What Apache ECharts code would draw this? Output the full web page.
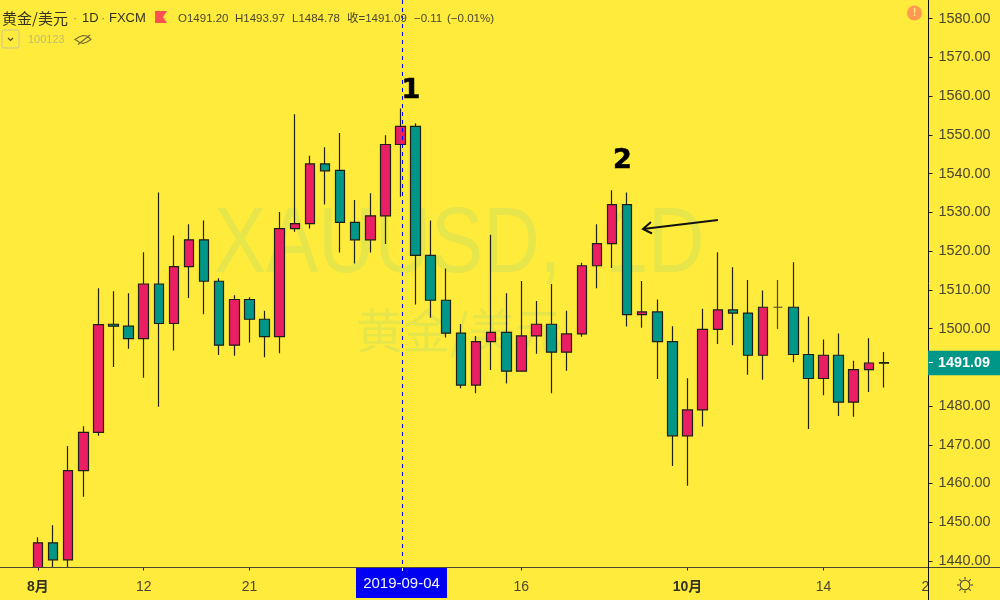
<!DOCTYPE html>
<html><head><meta charset="utf-8">
<style>html,body{margin:0;padding:0;background:#FFEB3B}#c{width:1000px;height:600px}</style>
<script src="https://cdn.jsdelivr.net/npm/echarts@6/dist/echarts.min.js"></script>
</head><body><div id="c"></div>
<script>
const dates = ['07-30','07-31','08-01','08-02','08-05','08-06','08-07','08-08','08-09','08-12','08-13','08-14','08-15','08-16','08-19','08-20','08-21','08-22','08-23','08-26','08-27','08-28','08-29','08-30','09-02','09-03','09-04','09-05','09-06','09-09','09-10','09-11','09-12','09-13','09-16','09-17','09-18','09-19','09-20','09-23','09-24','09-25','09-26','09-27','09-30','10-01','10-02','10-03','10-04','10-07','10-08','10-09','10-10','10-11','10-14','10-15','10-16','10-17','10-18','10-21','10-22','10-23'];
const tickLabels = {'08-01':'{m|8月}','08-12':'12','08-21':'21','09-16':'16','10-01':'{m|10月}','10-14':'14','10-23':'23'};
// [open, close, low, high]
const ohlc = [
null,null,
[1436.0,1444.7,1430.0,1446.1],[1444.7,1440.3,1436.0,1449.2],[1440.3,1463.3,1437.0,1469.7],[1463.3,1473.2,1456.6,1474.8],
[1473.2,1501.0,1472.3,1510.4],[1501.1,1500.6,1490.1,1509.6],[1500.6,1497.4,1494.8,1509.1],[1497.4,1511.5,1487.3,1519.7],
[1511.5,1501.3,1479.8,1535.1],[1501.3,1516.0,1494.3,1524.0],[1516.0,1522.9,1507.9,1526.9],[1522.9,1512.2,1503.7,1527.9],
[1512.2,1495.7,1493.2,1513.0],[1495.7,1507.5,1493.0,1508.6],[1507.5,1502.4,1496.4,1508.1],[1502.4,1497.9,1492.6,1504.6],
[1497.9,1525.8,1493.6,1530.1],[1525.8,1527.1,1525.0,1555.3],[1527.1,1542.5,1525.8,1544.6],[1542.5,1540.7,1532.0,1546.8],
[1540.8,1527.4,1519.6,1550.5],[1527.4,1522.9,1516.8,1533.2],[1522.9,1529.1,1519.6,1534.9],[1529.1,1547.5,1521.8,1549.9],
[1547.5,1552.2,1534.0,1556.8],[1552.2,1518.9,1506.2,1553.0],[1518.9,1507.3,1502.8,1527.9],[1507.3,1498.8,1497.7,1515.5],
[1498.8,1485.4,1484.6,1501.2],[1485.4,1496.6,1483.3,1498.1],[1496.6,1499.0,1489.3,1524.2],[1499.0,1489.0,1485.8,1509.1],
[1489.0,1498.1,1489.0,1512.3],[1498.1,1501.1,1493.5,1507.1],[1501.1,1493.9,1483.3,1511.5],[1493.9,1498.6,1489.1,1504.6],
[1498.6,1516.2,1497.9,1517.0],[1516.2,1521.9,1510.4,1526.9],[1521.9,1532.0,1515.6,1535.7],[1532.0,1503.6,1500.5,1535.1],
[1503.6,1504.3,1500.2,1512.3],[1504.3,1496.6,1487.0,1507.5],[1496.6,1472.3,1464.5,1500.6],[1472.3,1479.0,1459.4,1487.2],
[1479.0,1499.8,1474.7,1505.1],[1499.8,1504.8,1496.0,1519.7],[1504.8,1504.0,1495.7,1515.8],[1504.0,1493.1,1488.1,1512.5],
[1493.1,1505.5,1486.8,1509.8],[1505.5,1505.5,1499.9,1512.5],[1505.5,1493.3,1491.3,1517.1],[1493.3,1487.1,1474.1,1503.1],
[1487.1,1493.1,1482.8,1497.2],[1493.1,1481.0,1477.4,1498.7],[1481.0,1489.4,1477.2,1491.7],[1489.4,1491.1,1483.6,1497.5],
[1491.20,1491.09,1484.78,1493.97],
null,null,null
];
const priceTicks = [1440,1450,1460,1470,1480,1490,1500,1510,1520,1530,1540,1550,1560,1570,1580];
const lastPrice = 1491.09;
const textFont = '"Liberation Sans","Noto Sans CJK SC",sans-serif';
const tickColor = '#4a4632';
const bg = '#FFEB3B';

const chart = echarts.init(document.getElementById('c'), null, {renderer:'canvas'});
const isTick = (i, v) => v in tickLabels;
const gLine = (x1,y1,x2,y2,stroke,w,z) => ({type:'line', z:z||60, shape:{x1,y1,x2,y2}, style:{stroke,lineWidth:w}});
const gText = (x,y,text,font,fill) => ({type:'text', z:60, style:{x,y,text,font,fill}});
const hdr = '11.5px "Liberation Sans","Noto Sans CJK SC",sans-serif';
chart.setOption({
  animation:false,
  backgroundColor:bg,
  grid:{left:0.2, top:0, width:936.6, height:567.5, containLabel:false},
  xAxis:{
    type:'category', data:dates, boundaryGap:true, z:3,
    axisLine:{show:false},
    axisTick:{show:true, alignWithLabel:true, interval:isTick, length:3, lineStyle:{color:'#222',width:1}},
    axisLabel:{show:true, interval:isTick, margin:13, fontSize:14, fontFamily:textFont, color:tickColor,
      formatter:v=>tickLabels[v]||'',
      rich:{m:{fontSize:14,fontWeight:'bold',fontFamily:textFont,color:'#33321f'}}},
    splitLine:{show:false}
  },
  yAxis:{
    type:'value', position:'right', min:1438.32, max:1584.8, offset:-8.3, scale:true, z:3,
    splitLine:{show:false},
    axisLine:{show:true, onZero:false, lineStyle:{color:'#111',width:1}},
    axisTick:{show:true, length:4, customValues:priceTicks, lineStyle:{color:'#222'}},
    axisLabel:{show:true, margin:10, customValues:priceTicks, fontSize:14.4, fontFamily:textFont, color:tickColor,
      padding:[1,0,0,0], formatter:v=>v.toFixed(2)},
    axisPointer:{show:true, status:'show', value:lastPrice, type:'line', triggerTooltip:false, triggerEmphasis:false,
      lineStyle:{opacity:0},
      label:{show:true, formatter:p=>(+p.value).toFixed(2), backgroundColor:'#009688', color:'#fff', fontSize:14.4, fontWeight:'bold', fontFamily:textFont,
        padding:[5,10,5,10], margin:0, borderRadius:0}}
  },
  series:[{
    type:'candlestick', z:2, data:ohlc.map(d=>d||'-'), barWidth:10, clip:true,
    itemStyle:{color:'#E91E63', color0:'#009688', borderColor:'#1f1f14', borderColor0:'#1f1f14', borderColorDoji:'#4a4632', borderWidth:1.2}
  }],
  graphic:[
    {type:'text', z:-1, x:214, y:200, scaleX:0.84, style:{x:0,y:0,text:'XAUUSD,  1D',font:'93px "Liberation Sans",sans-serif',fill:'#E6E54A'}},
    {type:'text', z:-1, style:{x:356,y:307,text:'黄金/美元',font:'47px "Noto Sans CJK SC",sans-serif',fill:'#E6E54A'}},
    {type:'rect', z:2.5, shape:{x:0,y:568,width:930,height:32}, style:{fill:bg}},
    gLine(0,567.5,1000,567.5,'#4a4632',1,50),
    {type:'rect', z:40, shape:{x:929,y:568,width:71,height:32}, style:{fill:bg}},
    gLine(928.5,567,928.5,600,'#111',1,50),
    {type:'line', z:30, shape:{x1:402.5,y1:0,x2:402.5,y2:567}, style:{stroke:'#0000ff',lineWidth:1,lineDash:[4,4]}},
    {type:'rect', z:45, shape:{x:356,y:568,width:91,height:30}, style:{fill:'#0000f5'}},
    {type:'text', z:46, style:{x:401.5,y:583.5,text:'2019-09-04',align:'center',verticalAlign:'middle',font:'15px '+textFont,fill:'#f4f4ff'}},
    gLine(402.5,568,402.5,571,'#fff',1,46),
    gLine(929,362.5,933,362.5,'#e8f5f0',1,70),
    gText(2,11,'黄金/美元','15px "Noto Sans CJK SC",sans-serif','#33321f'),
    gText(73,12,'·','13px '+textFont,'#8a8650'),
    gText(82,12,'1D','13px '+textFont,'#33321f'),
    gText(101,12,'·','13px '+textFont,'#8a8650'),
    gText(109,12,'FXCM','13px '+textFont,'#33321f'),
    {type:'polygon', z:60, shape:{points:[[155,11],[167,11],[163,17],[167,23],[155,23]]}, style:{fill:'#FF5252'}},
    gText(178,13,'O1491.20',hdr,'#4a4632'),
    gText(235,13,'H1493.97',hdr,'#4a4632'),
    gText(292,13,'L1484.78',hdr,'#4a4632'),
    gText(347,13,'收=1491.09',hdr,'#4a4632'),
    gText(414,13,'−0.11',hdr,'#4a4632'),
    gText(447,13,'(−0.01%)',hdr,'#4a4632'),
    {type:'rect', z:60, shape:{x:2,y:30,width:17,height:18,r:2}, style:{fill:'none',stroke:'#c9c68a',lineWidth:1}},
    {type:'polyline', z:60, shape:{points:[[8,38],[10.5,40.5],[13,38]]}, style:{stroke:'#4a4632',lineWidth:1.2,fill:'none'}},
    gText(28,34,'100123','11px '+textFont,'#bfbc7a'),
    {type:'polygon', z:60, shape:{points:[[75,39.5],[79,37],[83,35.5],[87,36],[91,39.5],[87,42],[83,43.5],[79,42]]}, style:{fill:'none',stroke:'#6e6a3a',lineWidth:1.1}},
    gLine(78,44.5,90,35,'#6e6a3a',1.1),
    {type:'circle', z:60, shape:{cx:914.5,cy:13,r:7.5}, style:{fill:'#FF9850'}},
    {type:'text', z:61, style:{x:914.5,y:13,text:'!',align:'center',verticalAlign:'middle',font:'bold 11px '+textFont,fill:'#FFEB80'}},
    {type:'circle', z:60, shape:{cx:965,cy:585,r:4.8}, style:{fill:'none',stroke:'#4a4632',lineWidth:1.1}},
    gLine(965,577,965,579.5,'#4a4632',1.1), gLine(965,590.5,965,593,'#4a4632',1.1),
    gLine(957,585,959.5,585,'#4a4632',1.1), gLine(970.5,585,973,585,'#4a4632',1.1),
    gLine(959.3,579.3,961.1,581.1,'#4a4632',1.1), gLine(968.9,588.9,970.7,590.7,'#4a4632',1.1),
    gLine(959.3,590.7,961.1,588.9,'#4a4632',1.1), gLine(968.9,581.1,970.7,579.3,'#4a4632',1.1),
    {type:'text', z:60, style:{x:411,y:90.5,text:'1',align:'center',verticalAlign:'middle',font:'bold 27px "DejaVu Sans",sans-serif',fill:'#000',stroke:'#000',lineWidth:0.6}},
    {type:'text', z:60, style:{x:622.5,y:161,text:'2',align:'center',verticalAlign:'middle',font:'bold 27px "DejaVu Sans",sans-serif',fill:'#000',stroke:'#000',lineWidth:0.6}},
    {type:'polyline', z:60, shape:{points:[[718,220],[643,229]]}, style:{stroke:'#111',lineWidth:2,fill:'none'}},
    {type:'polyline', z:60, shape:{points:[[651,222],[643,229],[652,233.5]]}, style:{stroke:'#111',lineWidth:2,fill:'none'}}
  ]
});
</script></body></html>
